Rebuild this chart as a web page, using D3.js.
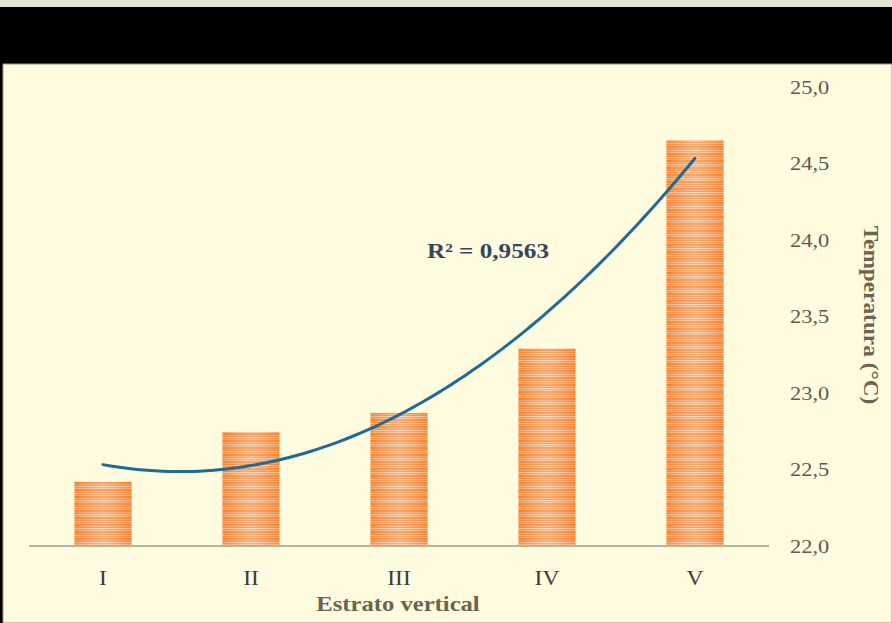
<!DOCTYPE html>
<html>
<head>
<meta charset="utf-8">
<script src="https://cdn.jsdelivr.net/npm/d3@7/dist/d3.min.js"></script>
<style>
  body { margin: 0; background: #000; }
  svg { display: block; }
</style>
</head>
<body>
<script>
const width = 892;
const height = 623;

// data
const estratos = ["I", "II", "III", "IV", "V"];
const temperatura = [22.42, 22.745, 22.87, 23.29, 24.65];
const yTicks = [22.0, 22.5, 23.0, 23.5, 24.0, 24.5, 25.0];
const r2Label = "R² = 0,9563";

const svg = d3.select("body").append("svg")
  .attr("width", width)
  .attr("height", height);

// frame: light strip on top, black band, chart panel
svg.append("rect").attr("width", width).attr("height", 7).attr("fill", "#e4e6cf");
svg.append("rect").attr("y", 7).attr("width", width).attr("height", height - 7).attr("fill", "#000");
svg.append("rect").attr("x", 3).attr("y", 64).attr("width", width - 3).attr("height", height - 64)
  .attr("fill", "#fffbdf").attr("stroke", "#9a9a88").attr("stroke-width", 1);

const defs = svg.append("defs");
const pat = defs.append("pattern")
  .attr("id", "stripes")
  .attr("patternUnits", "userSpaceOnUse")
  .attr("width", 10).attr("height", 7);
const stripeCols = ["#f5893b", "#f9ad73", "#f5893b", "#fcd2ac", "#f79548", "#fbbf8c", "#f5893b"];
stripeCols.forEach((c, i) => {
  pat.append("rect").attr("x", 0).attr("y", i).attr("width", 10).attr("height", 1).attr("fill", c);
});
const grad = defs.append("linearGradient").attr("id", "shade").attr("x1", 0).attr("x2", 1);
grad.append("stop").attr("offset", "0%").attr("stop-color", "#f07a25").attr("stop-opacity", 0.35);
grad.append("stop").attr("offset", "50%").attr("stop-color", "#fff").attr("stop-opacity", 0.25);
grad.append("stop").attr("offset", "100%").attr("stop-color", "#f07a25").attr("stop-opacity", 0.35);

const x = d3.scaleBand()
  .domain(estratos)
  .range([29, 769])
  .paddingInner(0.615)
  .paddingOuter(0.3075);

const y = d3.scaleLinear()
  .domain([22, 25])
  .range([546, 87]);

// bars
const bars = svg.append("g");
bars.selectAll("rect.bar")
  .data(temperatura)
  .join("rect")
  .attr("class", "bar")
  .attr("x", (d, i) => x(estratos[i]))
  .attr("y", d => y(d))
  .attr("width", x.bandwidth())
  .attr("height", d => y(22) - y(d))
  .attr("fill", "url(#stripes)");
bars.selectAll("rect.shade")
  .data(temperatura)
  .join("rect")
  .attr("class", "shade")
  .attr("x", (d, i) => x(estratos[i]))
  .attr("y", d => y(d))
  .attr("width", x.bandwidth())
  .attr("height", d => y(22) - y(d))
  .attr("fill", "url(#shade)");

// x axis line
svg.append("line")
  .attr("x1", 29).attr("x2", 769)
  .attr("y1", y(22)).attr("y2", y(22))
  .attr("stroke", "#b9b39c").attr("stroke-width", 2);

// x labels
svg.append("g").selectAll("text")
  .data(estratos)
  .join("text")
  .attr("transform", d => `translate(${x(d) + x.bandwidth() / 2},585) scale(1.12,1)`)
  .attr("text-anchor", "middle")
  .attr("font-family", "Liberation Serif")
  .attr("font-size", 21)
  .attr("fill", "#3b3b3b")
  .text(d => d);

// y axis on the right, labels only
const yAxis = d3.axisRight(y)
  .tickValues(yTicks)
  .tickSize(0)
  .tickPadding(0)
  .tickFormat(d => d3.format(".1f")(d).replace(".", ","));
const yg = svg.append("g").attr("transform", "translate(790,0)").call(yAxis);
yg.select(".domain").remove();
yg.selectAll("text")
  .attr("transform", "scale(1.18,1)")
  .attr("font-family", "Liberation Serif")
  .attr("font-size", 19)
  .attr("fill", "#5e5a52");

// quadratic trend line (least squares on the bar values)
const n = temperatura.length;
const xs = d3.range(1, n + 1);
function solve3(A, b) {
  const M = A.map((r, i) => [...r, b[i]]);
  for (let c = 0; c < 3; c++) {
    let p = c;
    for (let r = c + 1; r < 3; r++) if (Math.abs(M[r][c]) > Math.abs(M[p][c])) p = r;
    [M[c], M[p]] = [M[p], M[c]];
    for (let r = 0; r < 3; r++) {
      if (r === c) continue;
      const f = M[r][c] / M[c][c];
      for (let k = c; k < 4; k++) M[r][k] -= f * M[c][k];
    }
  }
  return M.map((r, i) => r[3] / r[i]);
}
const S = k => d3.sum(xs, v => Math.pow(v, k));
const Sy = k => d3.sum(xs, (v, i) => Math.pow(v, k) * temperatura[i]);
const coef = solve3(
  [[n, S(1), S(2)], [S(1), S(2), S(3)], [S(2), S(3), S(4)]],
  [Sy(0), Sy(1), Sy(2)]
);
const fit = t => coef[0] + coef[1] * t + coef[2] * t * t;
const xPix = d3.scaleLinear().domain([1, n])
  .range([x(estratos[0]) + x.bandwidth() / 2, x(estratos[n - 1]) + x.bandwidth() / 2]);
const trend = d3.range(1, n + 0.001, 0.05).map(t => [xPix(t), y(fit(t))]);

svg.append("path")
  .attr("d", d3.line()(trend))
  .attr("fill", "none")
  .attr("stroke", "#1f6a98")
  .attr("stroke-width", 3)
  .attr("stroke-linecap", "round");

svg.append("text")
  .attr("transform", "translate(488,258) scale(1.2,1)")
  .attr("text-anchor", "middle")
  .attr("font-family", "Liberation Serif")
  .attr("font-weight", "bold")
  .attr("font-size", 21)
  .attr("fill", "#34475c")
  .text(r2Label);

// axis titles
svg.append("text")
  .attr("transform", "translate(398,611) scale(1.12,1)")
  .attr("text-anchor", "middle")
  .attr("font-family", "Liberation Serif")
  .attr("font-weight", "bold")
  .attr("font-size", 22)
  .attr("fill", "#6e6250")
  .text("Estrato vertical");

svg.append("text")
  .attr("transform", "translate(864,315) rotate(90) scale(1.06,1)")
  .attr("text-anchor", "middle")
  .attr("font-family", "Liberation Serif")
  .attr("font-weight", "bold")
  .attr("font-size", 22)
  .attr("fill", "#6e6250")
  .text("Temperatura (°C)");
</script>
</body>
</html>
